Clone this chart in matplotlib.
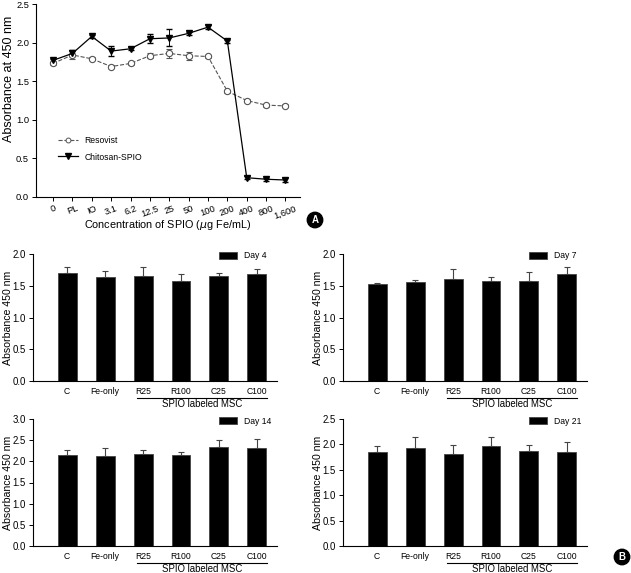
import numpy as np
import matplotlib
matplotlib.use('Agg')
import matplotlib.pyplot as plt
from matplotlib.lines import Line2D

plt.rcParams['font.family'] = ['Liberation Sans', 'DejaVu Sans']

# panel A: viability vs SPIO concentration
conc_labels = ['0', 'PL', 'IO', '3.1', '6.2', '12.5', '25', '50', '100', '200', '400', '800', '1,600']
resovist = [1.73, 1.84, 1.79, 1.69, 1.73, 1.83, 1.86, 1.83, 1.82, 1.37, 1.25, 1.19, 1.18]
resovist_err = [0.02, 0.05, 0.02, 0.02, 0.02, 0.03, 0.06, 0.05, 0.02, 0.02, 0.02, 0.02, 0.02]
chitosan = [1.77, 1.86, 2.08, 1.89, 1.92, 2.05, 2.06, 2.12, 2.20, 2.02, 0.25, 0.23, 0.22]
chitosan_err = [0.02, 0.04, 0.02, 0.06, 0.02, 0.06, 0.11, 0.02, 0.03, 0.02, 0.02, 0.02, 0.02]

# panel B: bars per day
groups = ['C', 'Fe-only', 'R25', 'R100', 'C25', 'C100']
day4 = [1.70, 1.63, 1.66, 1.58, 1.65, 1.69]
day4_err = [0.09, 0.10, 0.13, 0.11, 0.05, 0.07]
day7 = [1.53, 1.56, 1.61, 1.58, 1.58, 1.69]
day7_err = [0.01, 0.03, 0.15, 0.05, 0.14, 0.10]
day14 = [2.14, 2.13, 2.17, 2.15, 2.33, 2.32]
day14_err = [0.12, 0.19, 0.09, 0.06, 0.17, 0.21]
day21 = [1.85, 1.93, 1.81, 1.97, 1.87, 1.85]
day21_err = [0.11, 0.22, 0.17, 0.18, 0.11, 0.19]

W, H = 631, 573
fig = plt.figure(figsize=(W / 100, H / 100), dpi=100)


def px_axes(x0, y0, x1, y1):
    return fig.add_axes([x0 / W, 1 - y1 / H, (x1 - x0) / W, (y1 - y0) / H])


def style(ax):
    for s in ['top', 'right']:
        ax.spines[s].set_visible(False)
    for s in ['left', 'bottom']:
        ax.spines[s].set_linewidth(0.8)


# ---- A ----
ax = px_axes(36, 4, 300, 197)
style(ax)
x = np.arange(len(conc_labels))
ax.errorbar(x, resovist, yerr=resovist_err, color='#555555', ls='--', lw=0.8,
            marker='o', ms=4.5, mfc='white', mec='#555555', mew=0.8,
            capsize=2, elinewidth=0.7)
ax.errorbar(x, chitosan, yerr=chitosan_err, color='black', ls='-', lw=0.9,
            marker='v', ms=5, mfc='black', mec='black',
            capsize=2, elinewidth=0.7)
ax.set_xlim(-0.88, 12.75)
ax.set_ylim(0, 2.5)
ax.set_yticks([0, 0.5, 1.0, 1.5, 2.0, 2.5])
ax.set_yticklabels(['0.0', '0.5', '1.0', '1.5', '2.0', '2.5'])
ax.set_xticks(x)
ax.set_xticklabels(conc_labels, rotation=20, ha='center')
ax.tick_params(labelsize=6.7, length=3, width=0.7, pad=2)
ax.set_ylabel('Absorbance at 450 nm', fontsize=9)
ax.yaxis.set_label_coords(-0.08, 0.61)
ax.set_xlabel('Concentration of SPIO ($\\mu$g Fe/mL)', fontsize=7.8)
ax.xaxis.set_label_coords(0.5, -0.108)
handles = [
    Line2D([], [], color='#555555', ls='--', lw=0.8, marker='o', ms=3.5,
           mfc='white', mec='#555555', mew=0.7),
    Line2D([], [], color='black', ls='-', lw=0.9, marker='v', ms=4,
           mfc='black', mec='black'),
]
ax.legend(handles, ['Resovist', 'Chitosan-SPIO'], loc='upper left',
          bbox_to_anchor=(50 / W, 1 - 128 / H), bbox_transform=fig.transFigure,
          frameon=False, fontsize=6.2, handlelength=2.4,
          labelspacing=0.9, handletextpad=0.7)

# ---- B ----
panels = [
    (33, 254, 277, 381, day4, day4_err, 'Day 4', 2.0),
    (343, 254, 587, 381, day7, day7_err, 'Day 7', 2.0),
    (33, 419, 277, 546, day14, day14_err, 'Day 14', 3.0),
    (343, 419, 587, 546, day21, day21_err, 'Day 21', 2.5),
]
xb = np.arange(len(groups))
for x0, y0, x1, y1, vals, errs, lab, ymax in panels:
    ax = px_axes(x0, y0, x1, y1)
    style(ax)
    ax.bar(xb, vals, width=0.5, color='black', edgecolor='#444444', lw=0.6, label=lab)
    ax.errorbar(xb, vals, yerr=[np.zeros(len(vals)), errs], fmt='none',
                ecolor='#444444', elinewidth=0.8, capsize=2.5, capthick=0.8)
    ax.set_xlim(-0.9, 5.53)
    ax.set_ylim(0, ymax)
    yt = np.arange(0, ymax + 0.01, 0.5)
    ax.set_yticks(yt)
    ax.set_yticklabels([f'{v:.1f}' for v in yt])
    ax.set_xticks(xb)
    ax.set_xticklabels(groups)
    ax.tick_params(axis='y', labelsize=6.9, length=3, width=0.7, pad=2)
    ax.tick_params(axis='x', labelsize=6.2, length=0, pad=4)
    ax.set_ylabel('Absorbance 450 nm', fontsize=7.6)
    ax.yaxis.set_label_coords(-0.082, 0.5)
    h = y1 - y0
    tr = ax.get_xaxis_transform()
    ax.plot([1.84, 5.27], [-17 / h, -17 / h], color='black', lw=0.8,
            transform=tr, clip_on=False)
    ax.text(3.55, -23 / h, 'SPIO labeled MSC', transform=tr, ha='center',
            va='center', fontsize=6.9)
    ax.legend(loc='center left', bbox_to_anchor=((x0 + 186) / W, 1 - (y0 + 2) / H),
              bbox_transform=fig.transFigure, frameon=False, fontsize=6.2,
              handlelength=2.1, handleheight=0.8, handletextpad=0.8,
              borderpad=0, borderaxespad=0)

# panel badges
for bx, by, letter in [(315, 220, 'A'), (622, 557, 'B')]:
    fig.text(bx / W, 1 - by / H, letter, color='white', fontsize=7,
             fontweight='bold', ha='center', va='center',
             bbox=dict(boxstyle='circle,pad=0.28', fc='black', ec='black'))

fig.savefig('out.png', dpi=100)
